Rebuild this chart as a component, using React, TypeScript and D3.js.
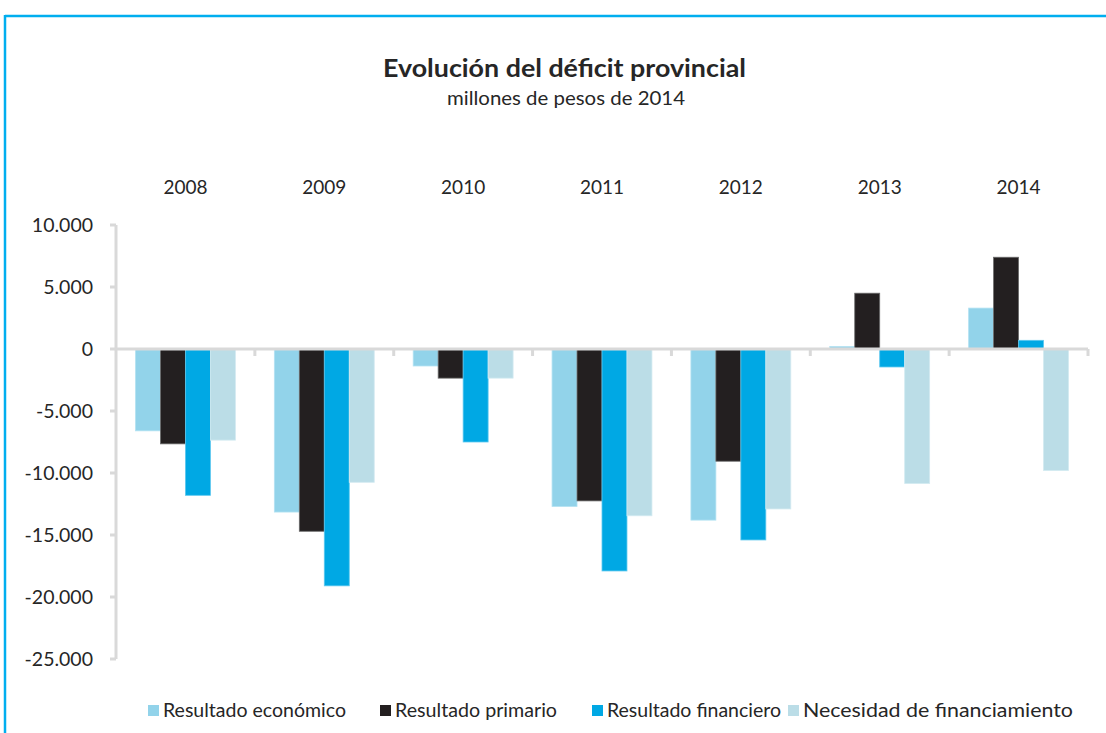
import React from "react";
import * as d3 from "d3";

const years = ["2008", "2009", "2010", "2011", "2012", "2013", "2014"];
const seriesNames = [
  "Resultado económico",
  "Resultado primario",
  "Resultado financiero",
  "Necesidad de financiamiento",
];
const resultadoEconomico = [-6600, -13150, -1370, -12700, -13800, 200, 3300];
const resultadoPrimario = [-7650, -14700, -2350, -12250, -9050, 4500, 7400];
const resultadoFinanciero = [-11800, -19100, -7500, -17900, -15400, -1450, 700];
const necesidadFinanciamiento = [-7350, -10750, -2350, -13450, -12900, -10850, -9800];
const yTicks = [10000, 5000, 0, -5000, -10000, -15000, -20000, -25000];

const colors = ["#92d3ea", "#231f20", "#00a8e4", "#bbdde7"];
const strokes = ["#b3e2f2", "#6b6b6b", "#5cc8ef", "#d3eaf1"];
const font = "Lato, 'Open Sans', sans-serif";

const locale = d3.formatLocale({
  decimal: ",",
  thousands: ".",
  grouping: [3],
  currency: ["$", ""],
  minus: "-",
});

export default function App() {
  const width = 1106;
  const height = 733;
  const values = [resultadoEconomico, resultadoPrimario, resultadoFinanciero, necesidadFinanciamiento];

  const x = d3.scaleBand<string>().domain(years).range([116, 1088]).padding(0);
  const xSub = d3
    .scaleBand<string>()
    .domain(seriesNames)
    .range([0, x.bandwidth()])
    .paddingInner(0)
    .paddingOuter(0.78);
  const y = d3.scaleLinear().domain([-25000, 10000]).range([659, 225]);
  const fmt = locale.format(",");

  // legend layout (swatch x, text length)
  const legendX = [148, 380, 592, 788];
  const legendLen = [183, 162, 174, 270];

  return (
    <svg
      width={width}
      height={height}
      style={{ position: "absolute", left: 0, top: 0, background: "#fff" }}
      fontFamily={font}
    >
      {/* frame */}
      <line x1={5} x2={width} y1={16} y2={16} stroke="#00aeef" strokeWidth={2.5} />
      <line x1={5} x2={5} y1={15} y2={height} stroke="#00aeef" strokeWidth={2.5} />

      <text
        x={383}
        y={77}
        fontSize={24}
        fontWeight="bold"
        fill="#262626"
        textLength={363}
        lengthAdjust="spacingAndGlyphs"
      >
        Evolución del déficit provincial
      </text>
      <text x={447} y={105} fontSize={19} fill="#262626" textLength={238} lengthAdjust="spacingAndGlyphs">
        millones de pesos de 2014
      </text>

      {/* category labels on top */}
      {years.map((yr) => (
        <text
          key={yr}
          x={(x(yr) as number) + x.bandwidth() / 2}
          y={194}
          textAnchor="middle"
          fontSize={19}
          fill="#262626"
        >
          {yr}
        </text>
      ))}

      {/* y axis */}
      <line x1={116} x2={116} y1={y(10000)} y2={y(-25000)} stroke="#d9d9d9" strokeWidth={3} />
      {yTicks.map((t) => (
        <g key={t}>
          <line x1={110} x2={116} y1={y(t)} y2={y(t)} stroke="#d9d9d9" strokeWidth={3} />
          <text x={93} y={y(t)} dy="0.35em" textAnchor="end" fontSize={19.5} fill="#262626">
            {fmt(t)}
          </text>
        </g>
      ))}

      {/* bars */}
      {years.map((yr, i) => (
        <g key={yr} transform={`translate(${x(yr)},0)`}>
          {seriesNames.map((s, j) => {
            const v = values[j][i];
            const y0 = y(0);
            const yv = y(v);
            return (
              <rect
                key={s}
                x={xSub(s) as number}
                y={Math.min(y0, yv)}
                width={xSub.bandwidth()}
                height={Math.abs(yv - y0)}
                fill={colors[j]}
                stroke={strokes[j]}
                strokeWidth={0.8}
              />
            );
          })}
        </g>
      ))}

      {/* zero line with category ticks */}
      <line x1={116} x2={1088} y1={y(0)} y2={y(0)} stroke="#d9d9d9" strokeWidth={3} />
      {years.map((yr) => (
        <line
          key={yr}
          x1={(x(yr) as number) + x.bandwidth()}
          x2={(x(yr) as number) + x.bandwidth()}
          y1={y(0)}
          y2={y(0) + 7}
          stroke="#d9d9d9"
          strokeWidth={3}
        />
      ))}

      {/* legend */}
      {seriesNames.map((s, j) => (
        <g key={s}>
          <rect x={legendX[j]} y={705} width={11} height={11} fill={colors[j]} />
          <text
            x={legendX[j] + 15}
            y={717}
            fontSize={18.5}
            fill="#262626"
            textLength={legendLen[j]}
            lengthAdjust="spacingAndGlyphs"
          >
            {s}
          </text>
        </g>
      ))}
    </svg>
  );
}
